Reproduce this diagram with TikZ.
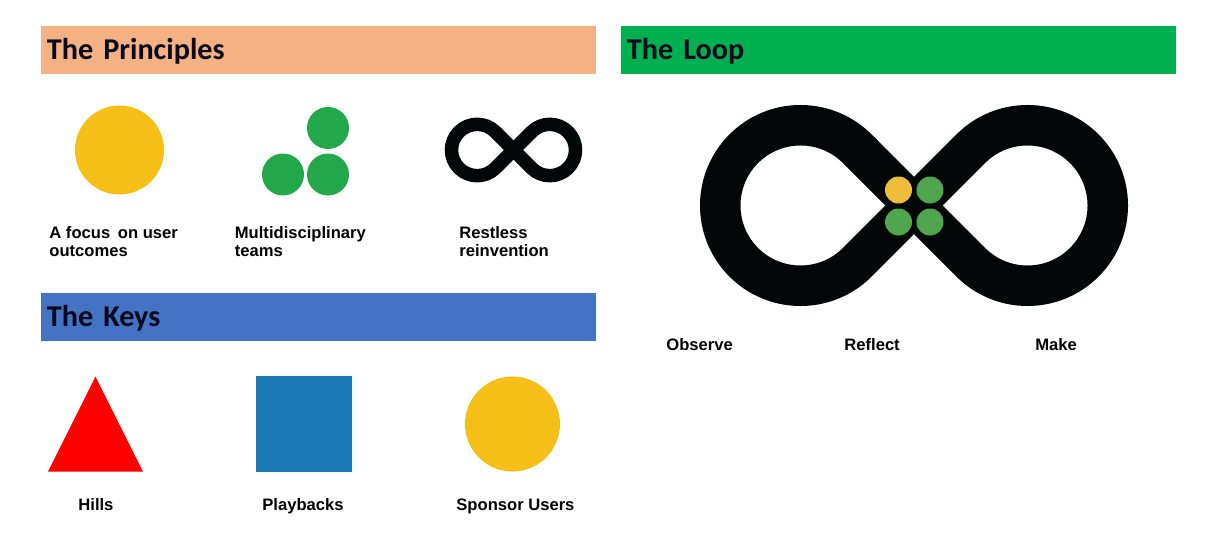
\documentclass[tikz,border=0pt]{standalone}
\usepackage{fontspec}
\setmainfont{Liberation Sans}
\newfontfamily\titlefont{Carlito}
\definecolor{barorange}{HTML}{F4B183}
\definecolor{bargreen}{HTML}{00B050}
\definecolor{barblue}{HTML}{4472C4}
\definecolor{dotyellow}{HTML}{F5BF18}
\definecolor{dotgreen}{HTML}{22A84A}
\definecolor{keyblue}{HTML}{1B79B6}
\definecolor{midyellow}{HTML}{EFBC3C}
\definecolor{midgreen}{HTML}{4FA64F}
\definecolor{loopblack}{HTML}{040707}
\definecolor{titleink}{HTML}{0A0A1E}
\tikzset{
	titlebar/.style={anchor=north west, minimum height=24pt, text width=272pt, text height=12pt, text depth=3pt, inner xsep=2.75pt, inner ysep=0pt, align=left, text=titleink, font=\titlefont\bfseries\fontsize{15.1}{17}\selectfont},
	dot/.style={circle, inner sep=0pt, minimum size=#1*0.5pt},
	caption/.style={anchor=base west, inner sep=0pt, align=left, font=\bfseries\fontsize{8.3}{9}\selectfont}
}
% infinity shape: centre x, centre y, scale, width of the band
\newcommand{\loopshape}[4]{
	\begin{scope}[shift={(#1,#2)}, scale=#3]
		\draw[loopblack, line width=#4] (-56.75,56.75) -- (56.75,-56.75) arc[start angle=225, end angle=495, radius=80.26] -- (-56.75,-56.75) arc[start angle=315, end angle=45, radius=80.26] -- cycle;
	\end{scope}
}
\begin{document}
\begin{tikzpicture}[x=0.5pt, y=0.5pt]
	\useasboundingbox (0,0) rectangle (1214,-556);
	
	% The Principles
	\node[titlebar, fill=barorange] (principles) at (41,-26) {The Principles};
	\node[dot=89, fill=dotyellow] (focus) at (119.5,-150) {};
	\node[dot=42, fill=dotgreen] (teamtop) at (328,-128) {};
	\node[dot=42, fill=dotgreen] (teamleft) at (283,-174.5) {};
	\node[dot=42, fill=dotgreen] (teamright) at (328,-174.5) {};
	\loopshape{513.5}{-150}{0.32}{6.75pt}
	\node[caption] (focustext) at (49,-238.5) {A focus\hspace{1.5pt} on user};
	\node[caption] (focustext2) at (49,-256.5) {outcomes};
	\node[caption] (teamstext) at (234.5,-238.5) {Multidisciplinary};
	\node[caption] (teamstext2) at (234.5,-256.5) {teams};
	\node[caption] (restlesstext) at (459,-238.5) {Restless};
	\node[caption] (restlesstext2) at (459,-256.5) {reinvention};
	
	% The Keys
	\node[titlebar, fill=barblue] (keys) at (41,-293) {The Keys};
	\fill[red] (48,-471.5) -- (95.5,-376.5) -- (143,-471.5) -- cycle;
	\fill[keyblue] (256,-376) rectangle (352,-472);
	\node[dot=95, fill=dotyellow] (sponsor) at (512.5,-424) {};
	\node[caption] (hillstext) at (78,-510) {Hills};
	\node[caption] (playtext) at (262,-510) {Playbacks};
	\node[caption] (sponsortext) at (456,-510) {Sponsor Users};
	
	% The Loop
	\node[titlebar, fill=bargreen] (loop) at (621,-26) {The Loop};
	\loopshape{914}{-205.5}{1}{20.25pt}
	\node[dot=27, fill=midyellow] (dotA) at (898.5,-190) {};
	\node[dot=27, fill=midgreen] (dotB) at (930,-190) {};
	\node[dot=27, fill=midgreen] (dotC) at (898.5,-222) {};
	\node[dot=27, fill=midgreen] (dotD) at (930,-222) {};
	\node[caption] (observetext) at (666,-350) {Observe};
	\node[caption] (reflecttext) at (844,-350) {Reflect};
	\node[caption] (maketext) at (1035,-350) {Make};
\end{tikzpicture}
\end{document}
